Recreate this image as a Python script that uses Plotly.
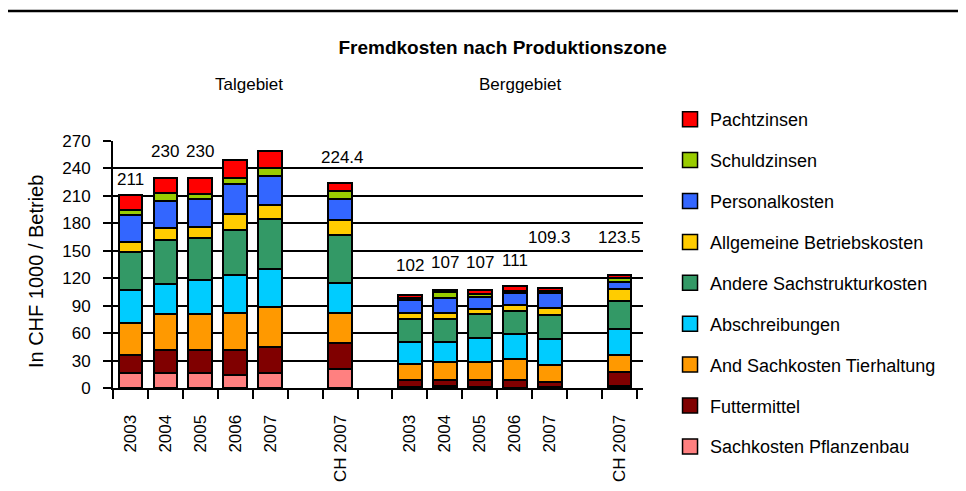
import plotly.graph_objects as go

FONT = "Liberation Sans, Arial, sans-serif"

# x positions (15 slots, blanks separate the groups)
categories = ["2003", "2004", "2005", "2006", "2007", "", "CH 2007", "",
              "2003", "2004", "2005", "2006", "2007", "", "CH 2007"]
x_keys = [f"c{i}" for i in range(len(categories))]

# series values per slot (None = empty slot), bottom of stack first
pflanzenbau = [16, 16, 16, 14, 16, None, 21, None, 1.5, 2.5, 1, 0.5, 1.5, None, 2]
futtermittel = [20, 25, 26, 27, 29, None, 28, None, 7, 6, 7.5, 8, 5, None, 15]
tierhaltung = [35, 40, 39, 41, 44, None, 33, None, 17.5, 19.5, 19.5, 23, 19, None, 19.5]
abschreibungen = [36, 33, 37, 41, 41, None, 33, None, 24.5, 22, 26.5, 27, 28, None, 28]
sachstruktur = [42, 48, 46, 50, 55, None, 52, None, 24.5, 25.5, 26, 26, 26.5, None, 31]
betriebskosten = [11, 13, 12, 17, 15, None, 17, None, 6.5, 6, 6, 6, 8, None, 13]
personalkosten = [29, 29, 31, 33, 32, None, 23, None, 14.5, 17, 13.5, 13, 15.5, None, 7]
schuldzinsen = [6, 9, 5, 7, 9, None, 8, None, 2.5, 6.5, 3, 2.5, 2, None, 5]
pachtzinsen = [16, 17, 18, 19, 18.6, None, 9.4, None, 3.5, 2, 4, 5, 3.8, None, 3]

# totals shown above the bars
total_keys = ["c0", "c1", "c2", "c3", "c4", "c6", "c8", "c9", "c10", "c11", "c12", "c14"]
totals = [211, 230, 230, 249, 259.6, 224.4, 102, 107, 107, 111, 109.3, 123.5]
# label placement (lift above bar in axis units, pixel shift)
label_lift = [17, 28.7, 28.7, 36, 25.4, 27.6, 32, 30.4, 30.4, 28.6, 54.9, 40.7]
label_xshift = [0, 0, 0, 0, 17, 2, 0, 0, 0, 0, 0, 0]

series = [
    ("Sachkosten Pflanzenbau", pflanzenbau, "#FF8080"),
    ("Futtermittel", futtermittel, "#800000"),
    ("And Sachkosten Tierhaltung", tierhaltung, "#FF9900"),
    ("Abschreibungen", abschreibungen, "#00CCFF"),
    ("Andere Sachstrukturkosten", sachstruktur, "#339966"),
    ("Allgemeine Betriebskosten", betriebskosten, "#FFCC00"),
    ("Personalkosten", personalkosten, "#3366FF"),
    ("Schuldzinsen", schuldzinsen, "#99CC00"),
    ("Pachtzinsen", pachtzinsen, "#FF0000"),
]

fig = go.Figure()

for name, vals, color in series:
    fig.add_trace(go.Bar(
        x=x_keys, y=vals, name=name, width=0.68,
        marker=dict(color=color, line=dict(color="black", width=2)),
        showlegend=False,
    ))

# legend entries (top to bottom), square swatches like the original
for i, (name, vals, color) in enumerate(reversed(series)):
    fig.add_trace(go.Scatter(
        x=[None], y=[None], mode="markers", name=name, legendgroup=f"g{i}",
        marker=dict(symbol="square", size=15, color=color,
                    line=dict(color="black", width=1.5)),
    ))

for key, tot, lift, dx in zip(total_keys, totals, label_lift, label_xshift):
    fig.add_annotation(x=key, y=tot + lift, text=f"{tot:g}", showarrow=False,
                       xshift=dx, xanchor="center", yanchor="middle",
                       font=dict(family=FONT, size=17, color="black"))

# group captions, axis title
caption = dict(xref="paper", yref="paper", showarrow=False, xanchor="center",
               yanchor="middle", font=dict(family=FONT, size=17, color="black"))
fig.add_annotation(x=0.256, y=1.227, text="Talgebiet", **caption)
fig.add_annotation(x=0.768, y=1.227, text="Berggebiet", **caption)
fig.add_annotation(x=-0.145, y=0.47, xref="paper", yref="paper",
                   text="In CHF 1000 / Betrieb", textangle=-90, showarrow=False,
                   xanchor="center", yanchor="middle",
                   font=dict(family=FONT, size=20, color="black"))

# rule across the top of the page
fig.add_shape(type="line", xref="paper", yref="paper",
              x0=-113 / 530, x1=853 / 530, y0=1.526, y1=1.526,
              line=dict(color="black", width=2.5))

# page body adds an 8px offset, so the margins are pulled in by 8px
fig.update_layout(
    width=966, height=491,
    barmode="stack",
    font=dict(family=FONT, size=17, color="black"),
    plot_bgcolor="white", paper_bgcolor="white",
    margin=dict(l=105, r=331, t=133, b=111, autoexpand=False),
    title=dict(text="<b>Fremdkosten nach Produktionszone</b>",
               font=dict(family=FONT, size=19, color="black"),
               x=0.512, xanchor="center", xref="container",
               y=1 - 39.5 / 491, yanchor="middle", yref="container"),
    legend=dict(x=1.051, xanchor="left", y=1.162, yanchor="top",
                traceorder="grouped", tracegroupgap=14.5, maxheight=491,
                font=dict(family=FONT, size=18, color="black"),
                bgcolor="rgba(0,0,0,0)", borderwidth=0),
    showlegend=True,
)

fig.update_xaxes(
    type="category", categoryorder="array", categoryarray=x_keys,
    tickmode="array", tickvals=x_keys, ticktext=categories,
    tickangle=-90, ticks="outside", tickson="boundaries", ticklen=9,
    tickwidth=2, tickcolor="black", ticklabelstandoff=18,
    showline=True, linecolor="black", linewidth=2,
    showgrid=False, tickfont=dict(size=17), automargin=False,
)
fig.update_yaxes(
    range=[0, 270], tickmode="array", tickvals=list(range(0, 271, 30)),
    showgrid=True, gridcolor="black", gridwidth=2, zeroline=False,
    showline=True, linecolor="black", linewidth=2,
    ticks="outside", ticklen=8, tickwidth=2, tickcolor="black",
    ticklabelstandoff=9, tickfont=dict(size=17), automargin=False,
)

fig.write_html("out.html")
